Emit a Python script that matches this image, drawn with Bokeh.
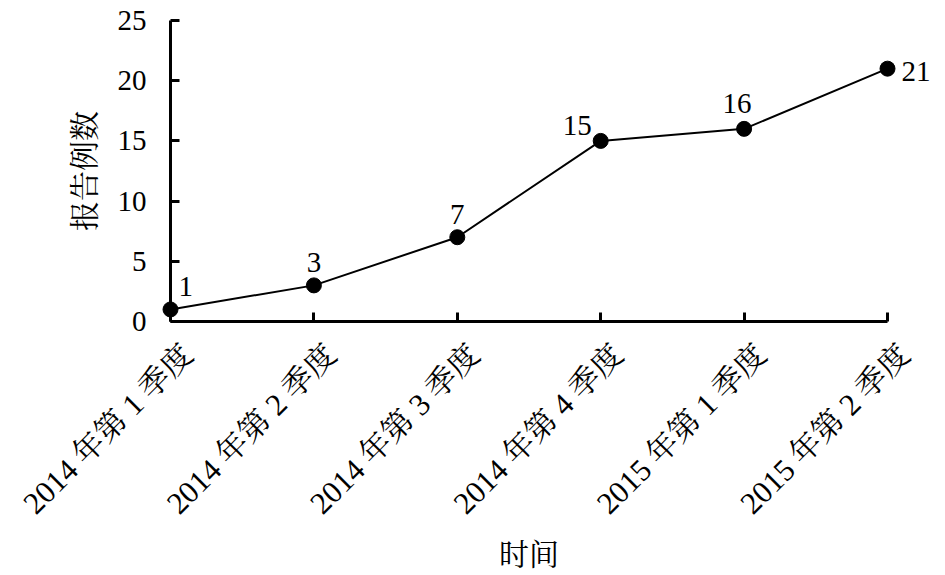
from bokeh.plotting import figure
from bokeh.models import ColumnDataSource, FixedTicker, Range1d
from bokeh.core.properties import value
from bokeh.embed import file_html
from bokeh.resources import INLINE
import math

categories = ["2014 年第 1 季度", "2014 年第 2 季度", "2014 年第 3 季度",
              "2014 年第 4 季度", "2015 年第 1 季度", "2015 年第 2 季度"]
counts = [1, 3, 7, 15, 16, 21]
y_ticks = [0, 5, 10, 15, 20, 25]

FONT = "'Liberation Serif', 'Noto Serif CJK SC', 'Noto Sans CJK SC', serif"

xs = list(range(len(categories)))

p = figure(width=945, height=575, output_backend="svg", toolbar_location=None,
           x_range=Range1d(0, len(categories) - 1), y_range=Range1d(0, 25),
           min_border_left=170, min_border_right=58, min_border_top=20,
           min_border_bottom=254)
p.outline_line_color = None
p.grid.visible = False
p.background_fill_color = "white"
p.border_fill_color = "white"

# x axis
p.xaxis.ticker = FixedTicker(ticks=xs)
p.xaxis.major_label_overrides = {i: "" for i in xs}
p.xaxis.axis_label = "时间"
# y axis
p.yaxis.ticker = FixedTicker(ticks=y_ticks)
p.yaxis.axis_label = "报告例数"

for ax in (p.xaxis[0], p.yaxis[0]):
    ax.axis_line_width = 3
    ax.axis_line_color = "black"
    ax.major_tick_line_width = 3
    ax.major_tick_line_color = "black"
    ax.major_tick_in = 9
    ax.major_tick_out = 0
    ax.minor_tick_line_color = None
    ax.major_label_text_font = FONT
    ax.major_label_text_font_size = "29px"
    ax.major_label_text_color = "black"
    ax.axis_label_text_font = FONT
    ax.axis_label_text_font_size = "30px"
    ax.axis_label_text_font_style = "normal"
    ax.axis_label_text_color = "black"

p.yaxis.major_label_standoff = 24
p.yaxis.axis_label_standoff = 14
p.xaxis.major_label_standoff = 0
p.xaxis.axis_label_standoff = 216

# rotated category labels under the x axis
cat_src = ColumnDataSource(dict(x=xs, y=[0] * len(xs), label=categories))
p.text("x", "y", text="label", source=cat_src, angle=math.pi / 4,
       text_align="right", text_baseline="middle",
       x_offset=17, y_offset=28, text_font=value(FONT),
       text_font_size="31px", text_color="black", level="overlay")

src = ColumnDataSource(dict(x=xs, y=counts))
p.line("x", "y", source=src, line_color="black", line_width=2, level="overlay")
p.scatter("x", "y", source=src, size=15, fill_color="black", line_color="black",
          level="overlay")

# data labels, grouped by placement
placements = ["a", "b", "b", "c", "d", "e"]
groups = {
    "a": dict(x_offset=8, y_offset=-23, text_align="left"),
    "b": dict(x_offset=0, y_offset=-23, text_align="center"),
    "c": dict(x_offset=-9, y_offset=-15, text_align="right"),
    "d": dict(x_offset=-7, y_offset=-25, text_align="center"),
    "e": dict(x_offset=14, y_offset=3, text_align="left"),
}
for key, sty in groups.items():
    idx = [i for i, pl in enumerate(placements) if pl == key]
    s = ColumnDataSource(dict(x=[xs[i] for i in idx], y=[counts[i] for i in idx],
                              label=[str(counts[i]) for i in idx]))
    p.text("x", "y", text="label", source=s, text_font=value(FONT),
           text_font_size="29px", text_color="black",
           text_baseline="alphabetic", level="overlay", **sty)

open("out.html", "w").write(file_html(p, INLINE))
